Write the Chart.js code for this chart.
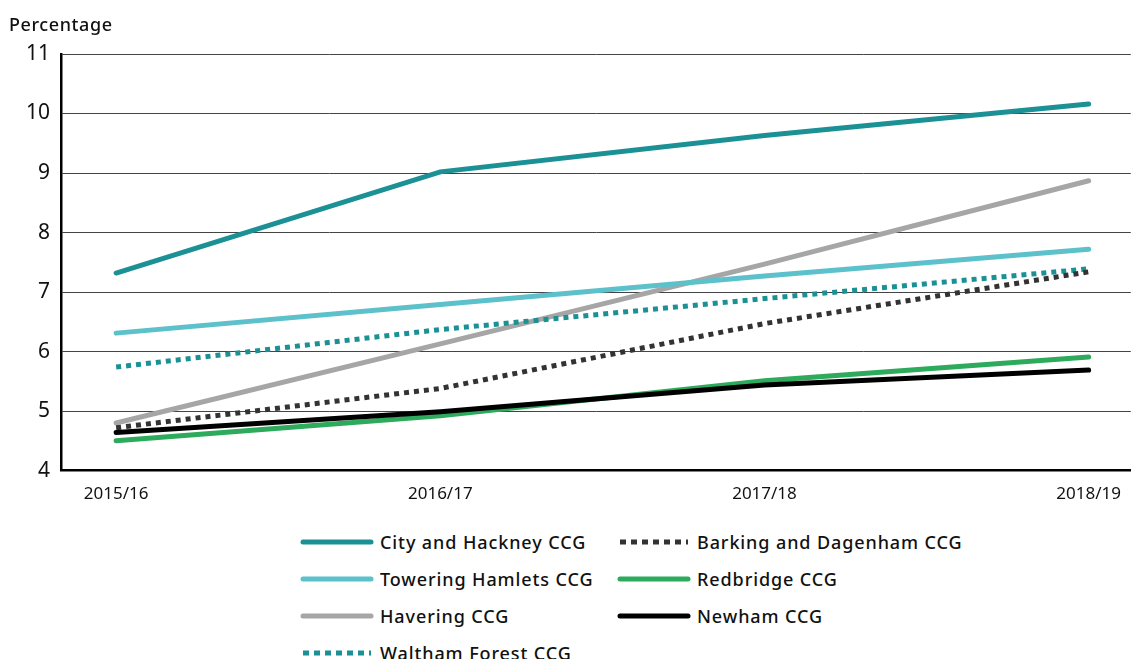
<!DOCTYPE html>
<html>
<head>
<meta charset="utf-8">
<script src="https://cdn.jsdelivr.net/npm/chart.js@4"></script>
<style>
  body { margin: 0; background: #fff; font-family: 'Noto Sans', sans-serif; }
  #wrap { position: relative; width: 1134px; height: 659px; }
  #yTitle { position: absolute; left: 9px; top: 12px; font-size: 18px; font-weight: 500; color: #111; letter-spacing: 0.6px; }
  #chartBox { position: absolute; left: 0; top: 0; width: 1134px; height: 517px; }
  #legend { position: absolute; left: 300px; top: 523px; display: grid;
    grid-template-columns: 317px 380px; grid-auto-flow: column; grid-template-rows: repeat(4, 37px); }
  .item { display: flex; align-items: center; font-size: 18px; font-weight: 500; color: #111; letter-spacing: 0.9px; }
  .item svg { margin-right: 6px; }
</style>
</head>
<body>
<div id="wrap">
  <div id="chartBox"><canvas id="lineChart"></canvas></div>
  <div id="yTitle">Percentage</div>
  <div id="legend"></div>
</div>
<script>
'use strict';

// data
const years = ['2015/16', '2016/17', '2017/18', '2018/19'];
const seriesNames = [
  'City and Hackney CCG', 'Towering Hamlets CCG', 'Havering CCG', 'Waltham Forest CCG',
  'Barking and Dagenham CCG', 'Redbridge CCG', 'Newham CCG'
];
const cityHackney   = [7.32, 9.02, 9.63, 10.16];
const toweringHam   = [6.31, 6.79, 7.27, 7.72];
const havering      = [4.80, 6.13, 7.47, 8.87];
const walthamForest = [5.74, 6.37, 6.89, 7.39];
const barkingDag    = [4.72, 5.38, 6.47, 7.34];
const redbridge     = [4.50, 4.92, 5.51, 5.91];
const newham        = [4.64, 4.99, 5.44, 5.69];

const seriesValues = [cityHackney, toweringHam, havering, walthamForest, barkingDag, redbridge, newham];
const colors = ['#1b9196', '#5cc1cb', '#a6a6a6', '#1b9196', '#333333', '#2eaa5c', '#000000'];
const dotted = [false, false, false, true, true, false, false];

const datasets = seriesNames.map((name, i) => ({
  label: name,
  data: seriesValues[i].map((v, j) => ({ x: j, y: v })),
  borderColor: colors[i],
  backgroundColor: colors[i],
  borderWidth: 5,
  borderDash: dotted[i] ? [5, 5] : [],
  borderCapStyle: dotted[i] ? 'butt' : 'round',
  pointRadius: 0,
  fill: false,
  tension: 0
}));

// draw order: lighter lines underneath
const drawOrder = [2, 3, 1, 0, 4, 5, 6];
datasets.forEach((d, i) => { d.order = 10 - drawOrder.indexOf(i); });

const line_config = {
  type: 'line',
  data: { datasets: datasets },
  options: {
    responsive: true,
    maintainAspectRatio: false,
    animation: false,
    layout: { padding: { top: 54, right: 0, left: 15, bottom: 0 } },
    plugins: { legend: { display: false }, tooltip: { enabled: false } },
    scales: {
      x: {
        type: 'linear',
        min: -0.17,
        max: 3.13,
        grid: { display: false, drawTicks: false },
        border: { display: true, color: '#000', width: 2.5 },
        ticks: {
          stepSize: 1,
          includeBounds: false,
          padding: 13,
          color: '#111',
          font: { family: 'Noto Sans', size: 17 },
          callback: v => (Number.isInteger(v) && years[v]) ? years[v] : ''
        }
      },
      y: {
        min: 4,
        max: 11,
        grid: { color: '#444', lineWidth: 1, drawTicks: false },
        border: { display: true, color: '#000', width: 2.5 },
        ticks: {
          stepSize: 1,
          padding: 11,
          color: '#111',
          font: { family: 'Noto Sans', size: 21 }
        }
      }
    }
  }
};

const myLineChart = new Chart(document.getElementById('lineChart'), line_config);

// legend in two columns
const legend = document.getElementById('legend');
seriesNames.forEach((name, i) => {
  const item = document.createElement('div');
  item.className = 'item';
  const dash = dotted[i] ? 'stroke-dasharray="6 5"' : '';
  const cap = dotted[i] ? 'butt' : 'round';
  item.innerHTML = '<svg width="74" height="10"><line x1="3" y1="5" x2="71" y2="5" stroke="' + colors[i] +
    '" stroke-width="5" stroke-linecap="' + cap + '" ' + dash + '/></svg><span>' + name + '</span>';
  legend.appendChild(item);
});
</script>
</body>
</html>
